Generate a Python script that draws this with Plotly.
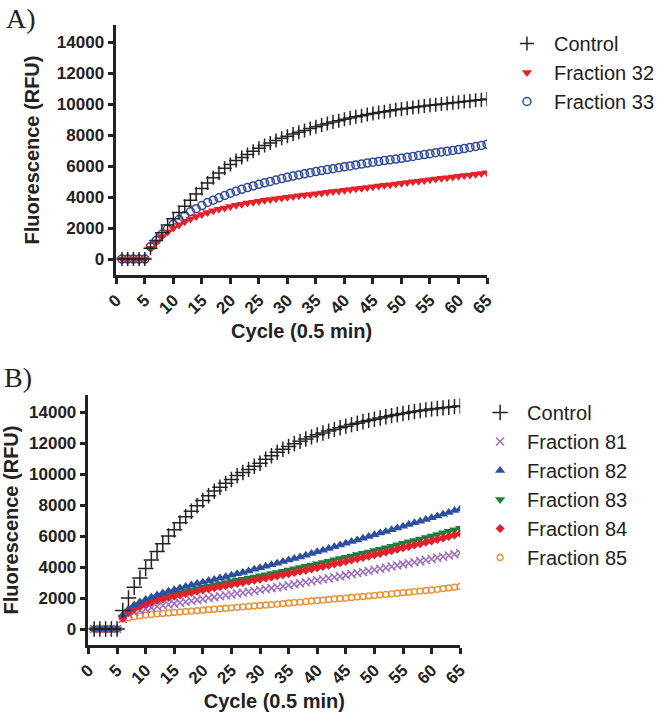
import plotly.graph_objects as go

cycles = list(range(1, 66))

# Panel A
a_control = [0, 0, 0, 0, 0, 700, 1200, 1700, 2200, 2600,
             3000, 3400, 3800, 4200, 4550, 4900, 5250, 5550, 5850, 6100,
             6350, 6550, 6750, 6950, 7150, 7320, 7480, 7640, 7790, 7930,
             8060, 8180, 8300, 8420, 8530, 8640, 8740, 8840, 8930, 9020,
             9100, 9180, 9250, 9320, 9390, 9450, 9510, 9570, 9630, 9680,
             9730, 9780, 9830, 9880, 9920, 9960, 10000, 10040, 10080, 10120,
             10160, 10200, 10240, 10280, 10320]
a_frac32 = [0, 0, 0, 0, 0, 700, 1100, 1450, 1750, 2000,
            2200, 2400, 2580, 2740, 2880, 3000, 3110, 3210, 3300, 3390,
            3470, 3540, 3610, 3670, 3730, 3790, 3840, 3890, 3940, 3990,
            4035, 4080, 4125, 4170, 4215, 4260, 4305, 4350, 4395, 4440,
            4485, 4530, 4575, 4620, 4665, 4710, 4755, 4800, 4845, 4890,
            4935, 4980, 5025, 5070, 5115, 5160, 5205, 5250, 5295, 5340,
            5385, 5430, 5475, 5520, 5570]
a_frac33 = [0, 0, 0, 0, 0, 800, 1200, 1600, 1950, 2250,
            2550, 2800, 3050, 3250, 3450, 3650, 3800, 3950, 4100, 4250,
            4380, 4500, 4610, 4720, 4820, 4920, 5010, 5100, 5190, 5270,
            5350, 5430, 5500, 5570, 5640, 5710, 5770, 5830, 5890, 5950,
            6010, 6070, 6130, 6190, 6250, 6300, 6350, 6400, 6450, 6500,
            6560, 6620, 6680, 6740, 6800, 6860, 6910, 6960, 7010, 7060,
            7130, 7200, 7260, 7330, 7400]

# Panel B
b_control = [0, 0, 0, 0, 0, 1200, 2000, 2700, 3300, 3900,
             4450, 5000, 5500, 6000, 6400, 6850, 7250, 7600, 7950, 8300,
             8600, 8900, 9150, 9400, 9650, 9900, 10100, 10300, 10500, 10700,
             10950, 11180, 11400, 11600, 11780, 11950, 12110, 12260, 12400, 12530,
             12650, 12770, 12880, 12990, 13090, 13190, 13280, 13370, 13460, 13540,
             13620, 13700, 13770, 13840, 13910, 13970, 14030, 14090, 14140, 14190,
             14230, 14270, 14310, 14350, 14390]
b_frac81 = [0, 0, 0, 0, 0, 650, 950, 1100, 1200, 1300,
            1380, 1450, 1520, 1580, 1640, 1700, 1760, 1820, 1880, 1940,
            2000, 2060, 2120, 2175, 2230, 2290, 2345, 2400, 2460, 2520,
            2580, 2640, 2700, 2765, 2830, 2890, 2955, 3020, 3085, 3150,
            3215, 3280, 3345, 3410, 3480, 3545, 3615, 3680, 3750, 3820,
            3890, 3960, 4030, 4100, 4170, 4240, 4310, 4380, 4450, 4520,
            4595, 4670, 4745, 4820, 4900]
b_frac82 = [0, 0, 0, 0, 0, 900, 1300, 1550, 1750, 1900,
            2050, 2200, 2320, 2430, 2540, 2640, 2740, 2840, 2930, 3020,
            3110, 3200, 3290, 3380, 3470, 3560, 3650, 3750, 3850, 3950,
            4050, 4150, 4250, 4350, 4450, 4550, 4650, 4760, 4870, 4980,
            5090, 5200, 5310, 5420, 5530, 5640, 5750, 5860, 5970, 6080,
            6190, 6300, 6410, 6520, 6630, 6740, 6850, 6960, 7070, 7180,
            7300, 7410, 7520, 7640, 7750]
b_frac83 = [0, 0, 0, 0, 0, 750, 1100, 1350, 1550, 1700,
            1830, 1950, 2060, 2160, 2260, 2350, 2440, 2530, 2620, 2700,
            2780, 2850, 2920, 3000, 3080, 3150, 3220, 3290, 3360, 3430,
            3505, 3580, 3655, 3730, 3810, 3890, 3970, 4050, 4130, 4210,
            4295, 4380, 4465, 4550, 4635, 4720, 4805, 4890, 4975, 5060,
            5150, 5245, 5340, 5435, 5530, 5625, 5720, 5815, 5910, 6005,
            6105, 6205, 6305, 6405, 6510]
b_frac84 = [0, 0, 0, 0, 0, 700, 1050, 1280, 1450, 1600,
            1730, 1840, 1940, 2030, 2120, 2200, 2280, 2360, 2440, 2520,
            2590, 2660, 2730, 2800, 2870, 2940, 3010, 3080, 3150, 3220,
            3290, 3360, 3430, 3500, 3575, 3650, 3725, 3800, 3880, 3960,
            4040, 4120, 4200, 4280, 4365, 4450, 4535, 4620, 4705, 4790,
            4880, 4970, 5060, 5150, 5240, 5330, 5420, 5510, 5600, 5690,
            5785, 5880, 5975, 6070, 6170]
b_frac85 = [0, 0, 0, 0, 0, 650, 720, 790, 850, 900,
            940, 980, 1010, 1040, 1070, 1100, 1130, 1160, 1190, 1220,
            1250, 1280, 1310, 1340, 1370, 1400, 1430, 1460, 1490, 1520,
            1550, 1580, 1610, 1645, 1680, 1710, 1740, 1775, 1810, 1840,
            1870, 1905, 1940, 1970, 2000, 2035, 2070, 2100, 2135, 2170,
            2205, 2240, 2275, 2310, 2345, 2380, 2415, 2450, 2485, 2520,
            2565, 2610, 2655, 2700, 2750]

INK = "#222222"
SANS = "Liberation Sans, Arial, sans-serif"
SERIF = "Liberation Serif, Times New Roman, serif"
W, H = 660, 715


def px_x(p):
    return p / W


def px_y(p):
    return 1 - p / H


fig = go.Figure()


def add(y, name, marker, xa, ya, legend, rank):
    fig.add_trace(go.Scatter(x=cycles, y=y, name=name, mode="markers", marker=marker,
                             xaxis=xa, yaxis=ya, legend=legend, legendrank=rank))


def cross(size, color=INK):
    return dict(symbol="cross-thin", size=size, color=color, line=dict(width=1.5, color=color))


# A (drawn back to front, legend order via rank)
add(a_frac33, "Fraction 33", dict(symbol="circle-open", size=8, color="#2e4a9a",
                                  line=dict(width=1.5, color="#2e4a9a")), "x", "y", "legend", 3)
add(a_frac32, "Fraction 32", dict(symbol="triangle-down", size=9, color="#e8202a"), "x", "y", "legend", 2)
add(a_control, "Control", cross(10), "x", "y", "legend", 1)

# B
add(b_frac85, "Fraction 85", dict(symbol="circle-open", size=6, color="#f28a2a",
                                  line=dict(width=1.3, color="#f28a2a")), "x2", "y2", "legend2", 6)
add(b_frac81, "Fraction 81", dict(symbol="x-thin", size=8, color="#9e6bbf",
                                  line=dict(width=1.5, color="#9e6bbf")), "x2", "y2", "legend2", 2)
add(b_frac83, "Fraction 83", dict(symbol="triangle-down", size=9, color="#1a8040"), "x2", "y2", "legend2", 4)
add(b_frac84, "Fraction 84", dict(symbol="diamond", size=7, color="#e3202a"), "x2", "y2", "legend2", 5)
add(b_frac82, "Fraction 82", dict(symbol="triangle-up", size=9, color="#2d4fa0"), "x2", "y2", "legend2", 3)
add(b_control, "Control", cross(11), "x2", "y2", "legend2", 1)

tickfont = dict(family=SANS, size=17, color=INK, weight="bold")
titlefont = dict(family=SANS, size=20, color=INK, weight="bold")

xcommon = dict(range=[0, 65], tickmode="linear", tick0=0, dtick=5, tickangle=-45,
               ticks="outside", ticklen=6, tickwidth=2.5, tickcolor=INK,
               showline=True, linewidth=2.5, linecolor=INK, showgrid=False, zeroline=False,
               tickfont=tickfont, automargin=False,
               title=dict(text="Cycle (0.5 min)", font=titlefont, standoff=8))
ycommon = dict(range=[-1030, 15100], tickmode="linear", tick0=0, dtick=2000, tickformat="d",
               ticks="outside", ticklen=6, tickwidth=2.5, tickcolor=INK,
               showline=True, linewidth=2.5, linecolor=INK, showgrid=False, zeroline=False,
               tickfont=tickfont, automargin=False,
               title=dict(text="Fluorescence (RFU)", font=titlefont, standoff=12))

legend_common = dict(font=dict(family=SANS, size=20, color=INK), bgcolor="rgba(0,0,0,0)",
                     traceorder="normal", itemwidth=44, xanchor="left", yanchor="top")

fig.update_layout(
    width=W, height=H, margin=dict(l=0, r=0, t=0, b=0),
    paper_bgcolor="white", plot_bgcolor="white",
    xaxis=dict(xcommon, domain=[px_x(117), px_x(490)], anchor="y"),
    yaxis=dict(ycommon, domain=[px_y(275), px_y(25)], anchor="x"),
    xaxis2=dict(xcommon, domain=[px_x(89), px_x(463)], anchor="y2"),
    yaxis2=dict(ycommon, domain=[px_y(645), px_y(395)], anchor="x2"),
    legend=dict(legend_common, x=px_x(503), y=px_y(24)),
    legend2=dict(legend_common, x=px_x(476), y=px_y(393)),
    annotations=[
        dict(text="A)", x=px_x(4), y=px_y(1), xref="paper", yref="paper", xanchor="left",
             yanchor="top", showarrow=False, font=dict(family=SERIF, size=28, color=INK)),
        dict(text="B)", x=px_x(2), y=px_y(360), xref="paper", yref="paper", xanchor="left",
             yanchor="top", showarrow=False, font=dict(family=SERIF, size=28, color=INK)),
    ],
    showlegend=True,
)

# the page body has a default margin; drop it so the figure fills the window
fig.write_html("out.html", config={"displayModeBar": False},
               post_script="document.body.style.margin='0';")
